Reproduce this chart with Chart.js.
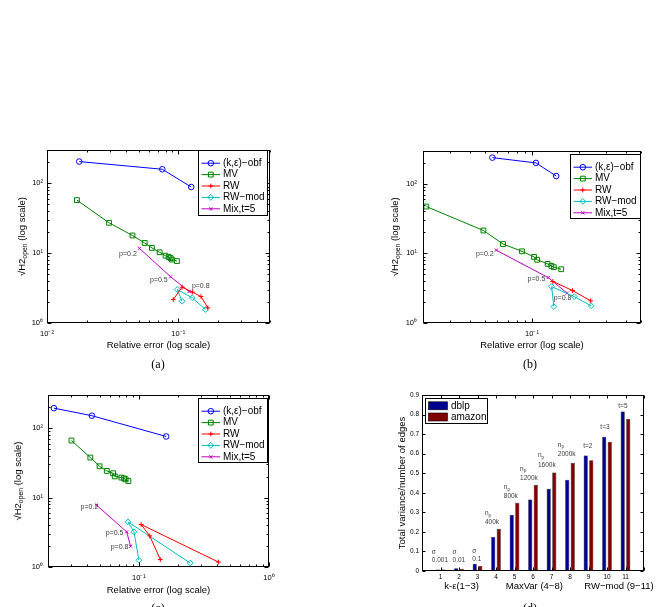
<!DOCTYPE html>
<html>
<head>
<meta charset="UTF-8">
<title>Utility of obfuscation methods</title>
<script src="https://cdn.jsdelivr.net/npm/chart.js@4.4.0/dist/chart.umd.min.js"></script>
<style>
  body { margin: 0; background: #fff; }
  #wrap { position: relative; width: 656px; height: 607px; overflow: hidden; }
  canvas { position: absolute; }
  .cap { position: absolute; width: 40px; text-align: center; font: 12px "Liberation Serif", "DejaVu Serif", serif; line-height: 14px; }
</style>
</head>
<body>
<div id="wrap">
  <canvas id="ca" width="328" height="215" style="left:0;top:140px"></canvas>
  <canvas id="cb" width="328" height="215" style="left:328px;top:140px"></canvas>
  <canvas id="cc" width="328" height="252" style="left:0;top:355px"></canvas>
  <canvas id="cd" width="328" height="252" style="left:328px;top:355px"></canvas>
  <div class="cap" style="left:138px;top:357px">(a)</div>
  <div class="cap" style="left:510px;top:357px">(b)</div>
  <div class="cap" style="left:138px;top:601px">(c)</div>
  <div class="cap" style="left:510px;top:601px">(d)</div>
</div>
<script>
// series of the three error plots, points are [relative error, sqrt(H2open)]
const seriesNames = ['(k,ε)−obf', 'MV', 'RW', 'RW−mod', 'Mix,t=5'];
const mixLabels = ['p=0.2', 'p=0.5', 'p=0.8'];

const aObf = [[0.0176, 205], [0.0756, 159], [0.1256, 88.5]];
const aMV = [[0.0169, 57.5], [0.0297, 27.2], [0.0448, 17.9], [0.0555, 14.0], [0.063, 11.9], [0.0721, 10.3], [0.080, 9.2], [0.0845, 8.8], [0.0875, 8.5], [0.0895, 8.1], [0.0977, 7.7]];
const aRW = [[0.0916, 2.17], [0.107, 3.26], [0.128, 2.77], [0.149, 2.39], [0.168, 1.65]];
const aRWmod = [[0.107, 2.05], [0.0982, 3.02], [0.128, 2.29], [0.161, 1.56]];
const aMix = [[0.0506, 11.7], [0.0875, 4.59], [0.121, 2.82]];

const bObf = [[0.0557, 237], [0.106, 199], [0.143, 129]];
const bMV = [[0.021, 47], [0.0488, 21.3], [0.0652, 13.6], [0.0863, 10.7], [0.103, 8.9], [0.108, 8.1], [0.126, 7.06], [0.133, 6.61], [0.138, 6.33], [0.154, 5.92]];
const bRW = [[0.136, 3.95], [0.182, 2.92], [0.238, 2.08]];
const bRWmod = [[0.138, 1.72], [0.1336, 3.33], [0.1866, 2.39], [0.240, 1.76]];
const bMix = [[0.059, 11.1], [0.127, 4.49], [0.168, 2.68]];

const cObf = [[0.0222, 194], [0.0435, 151], [0.162, 75.8]];
const cMV = [[0.0303, 66.3], [0.0423, 37.7], [0.0498, 28.2], [0.0566, 24.2], [0.0633, 22.4], [0.0652, 20.2], [0.0733, 19.4], [0.0768, 18.9], [0.079, 18.3], [0.083, 17.3]];
const cRW = [[0.146, 1.28], [0.121, 2.81], [0.104, 4.09], [0.408, 1.18]];
const cRWmod = [[0.1, 1.25], [0.0916, 3.21], [0.0824, 4.47], [0.248, 1.14]];
const cMix = [[0.0472, 7.79], [0.0805, 3.21], [0.0863, 1.99]];

// bar plot (d)
const barCats = [1, 2, 3, 4, 5, 6, 7, 8, 9, 10, 11];
const dblp = [0.008, 0.014, 0.037, 0.174, 0.286, 0.365, 0.421, 0.467, 0.591, 0.687, 0.816];
const amazon = [0.008, 0.012, 0.026, 0.215, 0.349, 0.440, 0.504, 0.552, 0.566, 0.661, 0.777];
const sigmaVals = ['0.001', '0.01', '0.1'];
const npVals = ['400k', '800k', '1200k', '1600k', '2000k'];
const tVals = ['t=2', 't=3', 't=5'];
const groupNames = ['k-ε(1−3)', 'MaxVar (4−8)', 'RW−mod (9−11)'];

// styles
const SANS = '"Liberation Sans", Arial, Helvetica, sans-serif';
const seriesColors = ['#0000ff', '#008000', '#ff0000', '#00bfbf', '#bf00bf'];
const seriesMarkers = ['circle', 'rect', 'cross', 'rectRot', 'crossRot'];
const markerSize = [2.8, 3.4, 2.4, 2.9, 2.2];

function font(size) { return size + 'px ' + SANS; }

const sup = { '-': '⁻', '0': '⁰', '1': '¹', '2': '²', '3': '³' };
function pow10Label(v) {
  const e = Math.round(Math.log10(v));
  return '10' + String(e).split('').map(c => sup[c]).join('');
}

function drawRich(ctx, parts, x, y, align, size) {
  const fonts = parts.map(p => font(p.sub ? size * 0.72 : size));
  let w = 0;
  const ws = parts.map((p, i) => { ctx.font = fonts[i]; const m = ctx.measureText(p.t).width; w += m; return m; });
  let cx = align === 'center' ? x - w / 2 : (align === 'right' ? x - w : x);
  ctx.textAlign = 'left';
  ctx.textBaseline = 'middle';
  parts.forEach((p, i) => {
    ctx.font = fonts[i];
    ctx.fillText(p.t, cx, y + (p.sub ? size * 0.32 : 0));
    cx += ws[i];
  });
}

// per canvas extras read by the plugins below
const extras = {};

function marks(scale, step) {
  const out = [];
  if (scale.type === 'logarithmic') {
    for (let e = Math.floor(Math.log10(scale.min)); e <= Math.ceil(Math.log10(scale.max)); e++) {
      for (let m = 1; m < 10; m++) {
        const v = m * Math.pow(10, e);
        if (v >= scale.min * 0.999 && v <= scale.max * 1.001) out.push({ v: v, major: m === 1 });
      }
    }
  } else {
    for (let v = scale.min; v <= scale.max + 1e-9; v += step) out.push({ v: v, major: true });
  }
  return out;
}

const framePlugin = {
  id: 'frame',
  afterDatasetsDraw(chart) {
    const ex = extras[chart.canvas.id];
    const ctx = chart.ctx, a = chart.chartArea, xs = chart.scales.x, ys = chart.scales.y;
    const L = Math.round(a.left) + 0.5, R = Math.round(a.right) - 0.5;
    const T = Math.round(a.top) + 0.5, B = Math.round(a.bottom) - 0.5;
    ctx.save();
    ctx.strokeStyle = '#000';
    ctx.lineWidth = 1;
    ctx.beginPath();
    marks(xs, ex.xStep).forEach(m => {
      const p = Math.round(xs.getPixelForValue(m.v)) + 0.5;
      const len = m.major ? ex.major : ex.minor;
      ctx.moveTo(p, B); ctx.lineTo(p, B - len);
      ctx.moveTo(p, T); ctx.lineTo(p, T + len);
    });
    marks(ys, ex.yStep).forEach(m => {
      const p = Math.round(ys.getPixelForValue(m.v)) + 0.5;
      const len = m.major ? ex.major : ex.minor;
      ctx.moveTo(L, p); ctx.lineTo(L + len, p);
      ctx.moveTo(R, p); ctx.lineTo(R - len, p);
    });
    ctx.stroke();
    ctx.strokeRect(L, T, R - L, B - T);
    ctx.restore();
  }
};

const boxLegend = {
  id: 'boxLegend',
  afterDraw(chart) {
    const o = extras[chart.canvas.id].legend;
    const ctx = chart.ctx, a = chart.chartArea;
    const x0 = Math.round(a.right - o.gapR - o.w) + 0.5, y0 = Math.round(a.top + o.gapT) + 0.5;
    ctx.save();
    ctx.fillStyle = '#fff';
    ctx.fillRect(x0, y0, o.w, o.h);
    ctx.strokeStyle = '#000';
    ctx.lineWidth = 1;
    ctx.strokeRect(x0, y0, o.w, o.h);
    chart.data.datasets.forEach((ds, i) => {
      const cy = y0 + o.first + i * o.gap;
      if (o.bars) {
        ctx.fillStyle = ds.backgroundColor;
        ctx.fillRect(x0 + 3, cy - 4, 19, 8);
        ctx.strokeStyle = '#000';
        ctx.lineWidth = 0.6;
        ctx.strokeRect(x0 + 3, cy - 4, 19, 8);
      } else {
        ctx.strokeStyle = ds.borderColor;
        ctx.lineWidth = 1;
        ctx.beginPath();
        ctx.moveTo(x0 + 3, cy); ctx.lineTo(x0 + 21.5, cy);
        ctx.stroke();
        ctx.fillStyle = 'rgba(0,0,0,0)';
        Chart.helpers.drawPoint(ctx, { pointStyle: ds.pointStyle, radius: ds.pointRadius, borderWidth: 1, rotation: 0 }, x0 + 12.3, cy);
      }
      ctx.fillStyle = '#000';
      ctx.font = font(o.size);
      ctx.textAlign = 'left';
      ctx.textBaseline = 'middle';
      ctx.fillText(ds.label, x0 + o.textX, cy);
    });
    ctx.restore();
  }
};

const notesPlugin = {
  id: 'notes',
  afterDraw(chart) {
    const ex = extras[chart.canvas.id];
    const ctx = chart.ctx, xs = chart.scales.x, ys = chart.scales.y, a = chart.chartArea;
    ctx.save();
    ctx.fillStyle = '#3c3c3c';
    (ex.notes || []).forEach(n => {
      drawRich(ctx, n.parts, xs.getPixelForValue(n.x), ys.getPixelForValue(n.y) + (n.dy || 0), n.align, n.size);
    });
    ctx.fillStyle = '#000';
    if (ex.xTitle) drawRich(ctx, [{ t: ex.xTitle }], (a.left + a.right) / 2, a.bottom + ex.xDy, 'center', 9.5);
    (ex.groups || []).forEach(g => {
      drawRich(ctx, [{ t: g.t }], xs.getPixelForValue(g.x), a.bottom + ex.gDy, 'center', 9.5);
    });
    if (ex.yTitle) {
      ctx.translate(a.left - ex.yDx, (a.top + a.bottom) / 2);
      ctx.rotate(-Math.PI / 2);
      drawRich(ctx, ex.yTitle, 0, 0, 'center', 9.5);
    }
    ctx.restore();
  }
};

function logAxis(pos, min, max, majors, pad, fit) {
  return {
    type: 'logarithmic', position: pos, min: min, max: max, bounds: 'data',
    grid: { display: false, drawTicks: false }, border: { display: false },
    ticks: { autoSkip: false, maxRotation: 0, padding: pad, color: '#000', font: { family: SANS, size: 7.5 }, callback: v => pow10Label(v) },
    afterBuildTicks: s => { s.ticks = majors.map(v => ({ value: v })); },
    afterFit: fit
  };
}

const h2Title = [{ t: '√H2' }, { t: 'open', sub: true }, { t: ' (log scale)' }];

function errorChart(id, sets, cfg) {
  extras[id] = {
    xStep: 1, yStep: 1, major: 4, minor: 2,
    legend: Object.assign({ w: 69, h: 65, first: 12.7, gap: 11.4, textX: 24.4, size: 10 }, cfg.legend),
    notes: cfg.notes.map((n, i) => ({ parts: [{ t: mixLabels[i] }], x: n[0], y: n[1], align: n[2], size: 7 })),
    xTitle: 'Relative error (log scale)', xDy: cfg.xDy,
    yTitle: h2Title, yDx: cfg.yDx
  };
  return new Chart(document.getElementById(id), {
    type: 'scatter',
    data: {
      datasets: sets.map((pts, i) => ({
        label: seriesNames[i],
        data: pts.map(p => ({ x: p[0], y: p[1] })),
        showLine: true,
        borderColor: seriesColors[i],
        borderWidth: 1,
        pointStyle: seriesMarkers[i],
        pointRadius: markerSize[i],
        pointBorderColor: seriesColors[i],
        pointBackgroundColor: 'rgba(0,0,0,0)',
        pointBorderWidth: 1,
        clip: 4
      }))
    },
    options: {
      responsive: false, animation: false, devicePixelRatio: 1, events: [],
      layout: { padding: cfg.pad },
      plugins: { legend: { display: false }, tooltip: { enabled: false } },
      scales: {
        x: logAxis('bottom', cfg.xMin, cfg.xMax, cfg.xMajors, 6, s => { s.height = cfg.xh; }),
        y: logAxis('left', 1, 300, [1, 10, 100], cfg.yPad, s => { s.width = cfg.yw; })
      }
    },
    plugins: [framePlugin, boxLegend, notesPlugin]
  });
}

errorChart('ca', [aObf, aMV, aRW, aRWmod, aMix], {
  pad: { left: 0, top: 10, right: 58, bottom: 0 }, yw: 47, xh: 32, yPad: 4,
  xMin: 0.01, xMax: 0.5, xMajors: [0.01, 0.1], xDy: 22, yDx: 25,
  legend: { gapR: 3, gapT: 0 },
  notes: [[0.0483, 9.84, 'right'], [0.083, 4.06, 'right'], [0.127, 3.33, 'left']]
});

errorChart('cb', [bObf, bMV, bRW, bRWmod, bMix], {
  pad: { left: 0, top: 10, right: 15, bottom: 0 }, yw: 95, xh: 32, yPad: 6,
  xMin: 0.02, xMax: 0.5, xMajors: [0.1], xDy: 22, yDx: 28,
  legend: { gapR: 1, gapT: 3, w: 70, h: 64 },
  notes: [[0.0568, 9.84, 'right'], [0.1217, 4.25, 'right'], [0.1377, 2.27, 'left']]
});

errorChart('cc', [cObf, cMV, cRW, cRWmod, cMix], {
  pad: { left: 0, top: 40, right: 59, bottom: 0 }, yw: 48, xh: 40, yPad: 5,
  xMin: 0.02, xMax: 1, xMajors: [0.1, 1], xDy: 23, yDx: 30,
  legend: { gapR: 2, gapT: 3, h: 64 },
  notes: [[0.0487, 7.22, 'right'], [0.076, 3.10, 'right'], [0.083, 1.95, 'right']]
});

// bar chart (d)
const sigmaAt = [[0.53, 0.056], [1.65, 0.056], [2.72, 0.060]];
const npAt = [[3.40, 0.247], [4.42, 0.38], [5.30, 0.474], [6.27, 0.542], [7.34, 0.597]];
const tAt = [[8.71, 0.64], [9.64, 0.733], [10.61, 0.845]];
const groupAt = [2.14, 6.07, 10.65];

const dNotes = [];
sigmaVals.forEach((s, i) => {
  dNotes.push({ parts: [{ t: 'σ' }], x: sigmaAt[i][0], y: sigmaAt[i][1], dy: -8, align: 'left', size: 6.5 });
  dNotes.push({ parts: [{ t: s }], x: sigmaAt[i][0], y: sigmaAt[i][1], align: 'left', size: 6.5 });
});
npVals.forEach((s, i) => {
  dNotes.push({ parts: [{ t: 'n' }, { t: 'p', sub: true }], x: npAt[i][0], y: npAt[i][1], dy: -9.5, align: 'left', size: 6.5 });
  dNotes.push({ parts: [{ t: s }], x: npAt[i][0], y: npAt[i][1], align: 'left', size: 6.5 });
});
tVals.forEach((s, i) => {
  dNotes.push({ parts: [{ t: s }], x: tAt[i][0], y: tAt[i][1], align: 'left', size: 6.5 });
});

extras.cd = {
  xStep: 1, yStep: 0.1, major: 3, minor: 2,
  legend: { gapR: 222 - 3.3 - 62, gapT: 3.3, w: 62, h: 25, first: 7.3, gap: 11.2, textX: 25.4, size: 10, bars: true },
  notes: dNotes,
  groups: groupNames.map((t, i) => ({ t: t, x: groupAt[i] })), gDy: 15.7,
  yTitle: [{ t: 'Total variance/number of edges' }], yDx: 20
};

new Chart(document.getElementById('cd'), {
  type: 'bar',
  data: {
    datasets: [
      { label: 'dblp', data: barCats.map((c, i) => ({ x: c, y: dblp[i] })), backgroundColor: '#000090', borderColor: '#000', borderWidth: 0.5, categoryPercentage: 0.6, barPercentage: 0.75 },
      { label: 'amazon', data: barCats.map((c, i) => ({ x: c, y: amazon[i] })), backgroundColor: '#800000', borderColor: '#000', borderWidth: 0.5, categoryPercentage: 0.6, barPercentage: 0.75 }
    ]
  },
  options: {
    responsive: false, animation: false, devicePixelRatio: 1, events: [],
    layout: { padding: { left: 0, top: 40, right: 12, bottom: 0 } },
    plugins: { legend: { display: false }, tooltip: { enabled: false } },
    scales: {
      x: {
        type: 'linear', min: 0, max: 12, offset: false,
        grid: { display: false, drawTicks: false, offset: false }, border: { display: false },
        ticks: { stepSize: 1, autoSkip: false, maxRotation: 0, padding: 2, color: '#000', font: { family: SANS, size: 6.5 }, callback: v => (v >= 1 && v <= 11 ? String(v) : '') },
        afterFit: s => { s.height = 36; }
      },
      y: {
        type: 'linear', min: 0, max: 0.9,
        grid: { display: false, drawTicks: false }, border: { display: false },
        ticks: { stepSize: 0.1, autoSkip: false, padding: 3, color: '#000', font: { family: SANS, size: 6.5 } },
        afterFit: s => { s.width = 94; }
      }
    }
  },
  plugins: [framePlugin, boxLegend, notesPlugin]
});
</script>
</body>
</html>
